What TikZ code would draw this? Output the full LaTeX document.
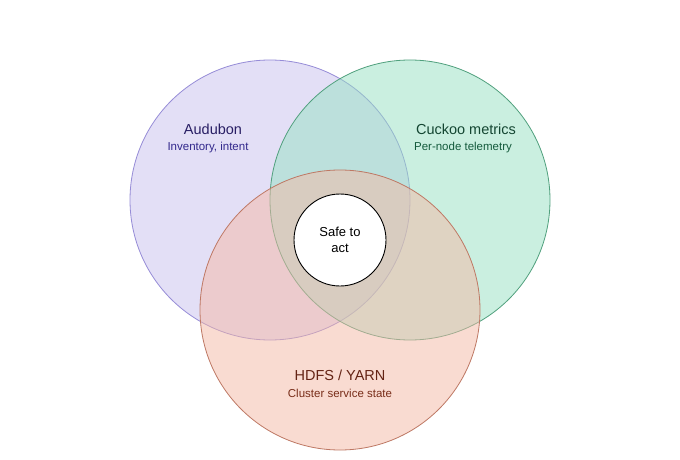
\documentclass[tikz,border=0pt]{standalone}
\usepackage{fontspec}
\setmainfont{Liberation Sans}
\begin{document}
\begin{tikzpicture}[x=1pt,y=-1pt,
  set/.style={circle,minimum size=280pt,inner sep=0pt,line width=0.8pt},
  ttl/.style={font=\fontsize{14.5}{16}\selectfont},
  sub/.style={font=\fontsize{11.5}{13}\selectfont}]
\useasboundingbox[fill=white] (0,0) rectangle (680,460);
\node[set,fill={rgb,255:red,205;green,198;blue,240},fill opacity=0.55,draw={rgb,255:red,150;green,140;blue,215}] (aud) at (270,200) {};
\node[set,fill={rgb,255:red,150;green,225;blue,195},fill opacity=0.5,draw={rgb,255:red,80;green,160;blue,125}] (cuc) at (410,200) {};
\node[set,fill={rgb,255:red,245;green,185;blue,165},fill opacity=0.5,draw={rgb,255:red,190;green,120;blue,100}] (hdfs) at (340,310) {};
\node[circle,minimum size=92pt,inner sep=0pt,fill=white,draw=black,line width=0.9pt,align=center,font=\fontsize{13}{16}\selectfont] (safe) at (340,240) {Safe to\\act};
\node[ttl,text={rgb,255:red,40;green,30;blue,100}] (audt) at (213,129) {Audubon};
\node[sub,text={rgb,255:red,50;green,40;blue,140}] (auds) at (208,148) {Inventory, intent};
\node[ttl,text={rgb,255:red,20;green,70;blue,50}] (cuct) at (466,129) {Cuckoo metrics};
\node[sub,text={rgb,255:red,20;green,90;blue,60}] (cucs) at (463,148) {Per-node telemetry};
\node[ttl,text={rgb,255:red,100;green,35;blue,20}] (hdt) at (340,375) {HDFS / YARN};
\node[sub,text={rgb,255:red,120;green,45;blue,25}] (hds) at (340,393) {Cluster service state};
\end{tikzpicture}
\end{document}
